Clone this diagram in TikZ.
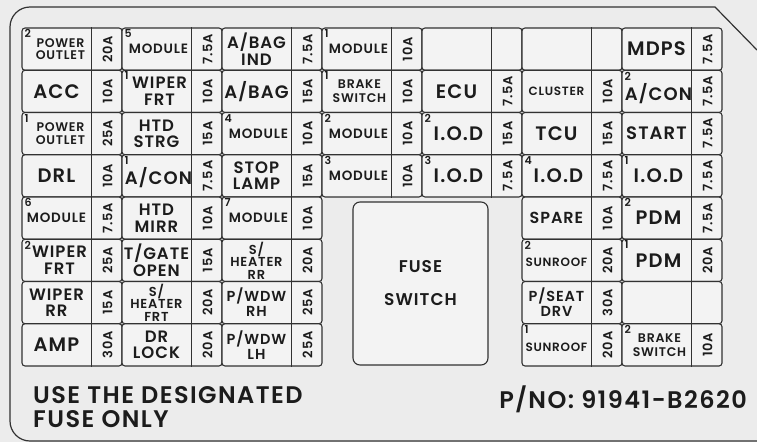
\documentclass[tikz,border=0pt]{standalone}
\usepackage{fontspec}
\IfFontExistsTF{Poppins SemiBold}{\setmainfont{Poppins SemiBold}[LetterSpace=6]}{\setmainfont{Poppins}[LetterSpace=6]}
\usepackage{tikz}
\usepackage{xcolor}
\definecolor{panelgray}{RGB}{236,236,236}
\definecolor{cellgray}{RGB}{243,243,243}
\definecolor{inkgray}{RGB}{50,50,50}
\definecolor{textblack}{RGB}{28,28,28}
\newcommand{\fsize}[2]{\fontsize{#1}{#2}\selectfont}

\tikzset{
  cellbox/.style={draw=inkgray, line width=1.1pt, fill=cellgray, rounded corners=3pt,
    minimum width=100pt, minimum height=42.25pt, inner sep=0pt},
  divline/.style={draw=inkgray, line width=1.1pt},
  fusetext/.style={text=textblack, inner sep=0pt, align=center},
  lbig/.style={fusetext, font=\fsize{19.5}{20}},
  lwide/.style={fusetext, font=\fsize{18}{18}},
  ltwo/.style={fusetext, font=\fsize{16.5}{16.5}},
  lmod/.style={fusetext, font=\fsize{13.5}{14}},
  lsmall/.style={fusetext, font=\fsize{12.5}{12.5}},
  lbrake/.style={fusetext, font=\fsize{12.5}{14}},
  ltiny/.style={fusetext, font=\fsize{12}{12}},
  lspare/.style={fusetext, font=\fsize{16}{16}},
  lthree/.style={fusetext, font=\fsize{13}{12.5}},
  lwdw/.style={fusetext, font=\fsize{14.5}{15}},
  ampmark/.style={fusetext, font=\fsize{13}{14}, rotate=90},
  fuseno/.style={fusetext, font=\fsize{11}{11}, anchor=north west},
  switchbox/.style={draw=inkgray, line width=1.1pt, fill=cellgray, rounded corners=7pt,
    minimum width=135pt, minimum height=163pt, text=textblack, align=center,
    font=\fsize{17}{33}},
  frameline/.style={draw=inkgray, line width=1.2pt},
}

% one fuse slot: name, column, row, label style, label, rating
\newcommand{\fusecell}[6]{%
  \node[cellbox] (#1) at ({72+100*#2},{49.125+42.25*#3}) {};
  \draw[divline] ([xshift=70pt]#1.north west) -- ([xshift=70pt]#1.south west);
  \node[#4] (#1-name) at ([xshift=35pt]#1.west) {#5};
  \node[ampmark] (#1-amp) at ([xshift=-15pt]#1.east) {#6};
}
\newcommand{\fuseno}[2]{\node[fuseno] (#1-no) at ([shift={(3pt,-2pt)}]#1.north west) {#2};}

\begin{document}
\begin{tikzpicture}[x=1pt, y=-1pt]
  \useasboundingbox (0,0) rectangle (757,442);
  \fill[panelgray] (0,0) rectangle (757,442);
  \draw[frameline] (757,50) -- (715,7) [rounded corners=20pt] -- (10,7) -- (10,441) -- (757,441);

  % row 1
  \fusecell{pout2}{0}{0}{lsmall, xshift=4pt}{POWER\\OUTLET}{20A} \fuseno{pout2}{2}
  \fusecell{mod5}{1}{0}{lmod, xshift=2pt}{MODULE}{7.5A} \fuseno{mod5}{5}
  \fusecell{abagind}{2}{0}{ltwo}{A/BAG\\IND}{7.5A}
  \fusecell{mod1}{3}{0}{lmod, xshift=2pt}{MODULE}{10A} \fuseno{mod1}{1}
  \fusecell{blanka}{4}{0}{lbig}{}{}
  \fusecell{blankb}{5}{0}{lbig}{}{}
  \fusecell{mdps}{6}{0}{lbig}{MDPS}{7.5A}
  % row 2
  \fusecell{acc}{0}{1}{lbig}{ACC}{10A}
  \fusecell{wiper1}{1}{1}{ltwo, xshift=3pt}{WIPER\\FRT}{10A} \fuseno{wiper1}{1}
  \fusecell{abag}{2}{1}{lwide}{A/BAG}{15A}
  \fusecell{brake1}{3}{1}{lbrake, xshift=3pt}{BRAKE\\SWITCH}{10A} \fuseno{brake1}{1}
  \fusecell{ecu}{4}{1}{lbig}{ECU}{7.5A}
  \fusecell{cluster}{5}{1}{ltiny}{CLUSTER}{10A}
  \fusecell{acon2}{6}{1}{lwide, xshift=2pt, yshift=-2pt}{A/CON}{7.5A} \fuseno{acon2}{2}
  % row 3
  \fusecell{pout1}{0}{2}{lsmall, xshift=4pt}{POWER\\OUTLET}{25A} \fuseno{pout1}{1}
  \fusecell{htdstrg}{1}{2}{ltwo}{HTD\\STRG}{15A}
  \fusecell{mod4}{2}{2}{lmod, xshift=2pt}{MODULE}{10A} \fuseno{mod4}{4}
  \fusecell{mod2}{3}{2}{lmod, xshift=2pt}{MODULE}{10A} \fuseno{mod2}{2}
  \fusecell{iod2}{4}{2}{lbig, xshift=2pt}{I.O.D}{15A} \fuseno{iod2}{2}
  \fusecell{tcu}{5}{2}{lbig}{TCU}{15A}
  \fusecell{start}{6}{2}{lwide}{START}{7.5A}
  % row 4
  \fusecell{drl}{0}{3}{lbig}{DRL}{10A}
  \fusecell{acon1}{1}{3}{lwide, xshift=2pt, yshift=-2pt}{A/CON}{7.5A} \fuseno{acon1}{1}
  \fusecell{stoplamp}{2}{3}{ltwo}{STOP\\LAMP}{15A}
  \fusecell{mod3}{3}{3}{lmod, xshift=2pt}{MODULE}{10A} \fuseno{mod3}{3}
  \fusecell{iod3}{4}{3}{lbig, xshift=2pt}{I.O.D}{7.5A} \fuseno{iod3}{3}
  \fusecell{iod4}{5}{3}{lbig, xshift=2pt}{I.O.D}{7.5A} \fuseno{iod4}{4}
  \fusecell{iod1}{6}{3}{lbig, xshift=2pt}{I.O.D}{7.5A} \fuseno{iod1}{1}
  % row 5
  \fusecell{mod6}{0}{4}{lmod}{MODULE}{7.5A} \fuseno{mod6}{6}
  \fusecell{htdmirr}{1}{4}{ltwo}{HTD\\MIRR}{10A}
  \fusecell{mod7}{2}{4}{lmod, xshift=2pt}{MODULE}{10A} \fuseno{mod7}{7}
  \fusecell{spare}{5}{4}{lspare}{SPARE}{10A}
  \fusecell{pdm2}{6}{4}{lbig, xshift=2pt}{PDM}{7.5A} \fuseno{pdm2}{2}
  % row 6
  \fusecell{wiper2}{0}{5}{ltwo, xshift=3pt}{WIPER\\FRT}{25A} \fuseno{wiper2}{2}
  \fusecell{tgate}{1}{5}{ltwo}{T/GATE\\OPEN}{15A}
  \fusecell{heaterrr}{2}{5}{lthree}{S/\\HEATER\\RR}{20A}
  \fusecell{sunroof2}{5}{5}{ltiny, yshift=-2pt}{SUNROOF}{20A} \fuseno{sunroof2}{2}
  \fusecell{pdm1}{6}{5}{lbig, xshift=2pt}{PDM}{20A} \fuseno{pdm1}{1}
  % row 7
  \fusecell{wiperrr}{0}{6}{ltwo}{WIPER\\RR}{15A}
  \fusecell{heaterfrt}{1}{6}{lthree}{S/\\HEATER\\FRT}{20A}
  \fusecell{pwdwrh}{2}{6}{lwdw}{P/WDW\\RH}{25A}
  \fusecell{pseat}{5}{6}{lwdw}{P/SEAT\\DRV}{30A}
  \fusecell{blankc}{6}{6}{lbig}{}{}
  % row 8
  \fusecell{amp}{0}{7}{lbig}{AMP}{30A}
  \fusecell{drlock}{1}{7}{ltwo}{DR\\LOCK}{20A}
  \fusecell{pwdwlh}{2}{7}{lwdw}{P/WDW\\LH}{25A}
  \fusecell{sunroof1}{5}{7}{ltiny, yshift=-2pt}{SUNROOF}{20A} \fuseno{sunroof1}{1}
  \fusecell{brake2}{6}{7}{lbrake, xshift=3pt}{BRAKE\\SWITCH}{10A} \fuseno{brake2}{2}

  \node[switchbox] (fuseswitch) at (420.5,283.5) {FUSE\\SWITCH};

  \node[text=textblack, inner sep=0pt, anchor=north west, align=left, font=\fsize{24}{24}]
    (note) at (33,386) {USE THE DESIGNATED\\FUSE ONLY};
  \node[text=textblack, inner sep=0pt, anchor=north east, font=\fsize{24}{24}]
    (partno) at (747,386) {P/NO: 91941-B2620};
\end{tikzpicture}
\end{document}
